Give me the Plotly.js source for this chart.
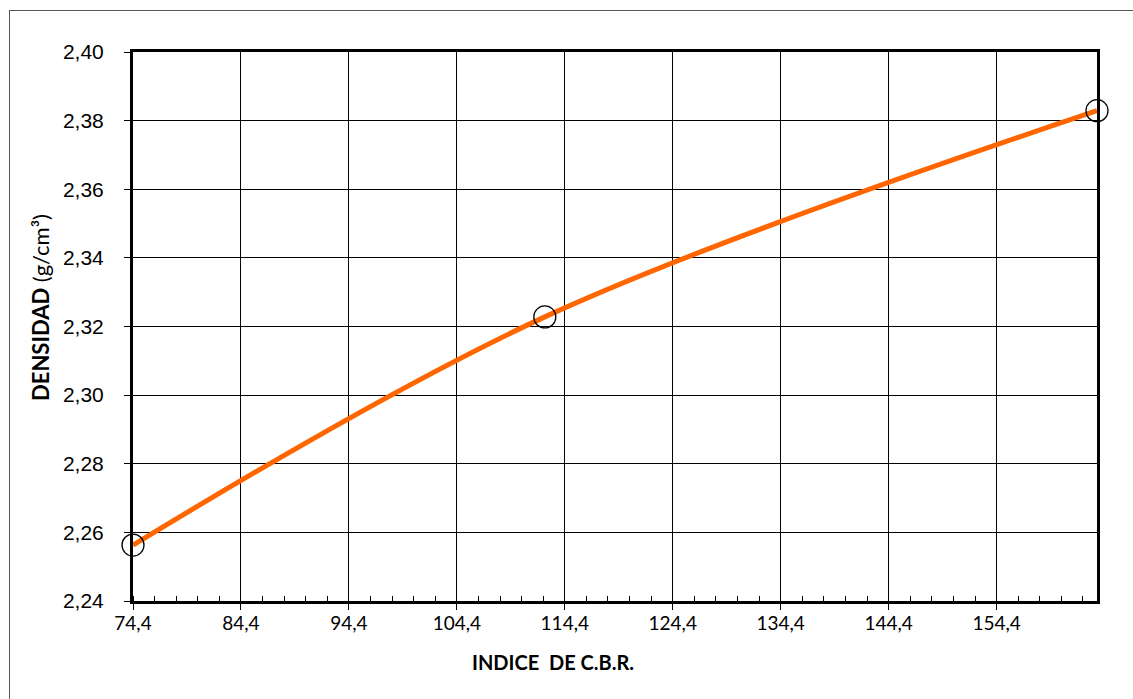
<!DOCTYPE html>
<html>
<head>
<meta charset="utf-8">
<script src="https://cdn.plot.ly/plotly-3.0.1.min.js"></script>
<style>
  html, body { margin: 0; padding: 0; background: #fff; }
  #frame { position: absolute; left: 9px; top: 10px; width: 1200px; height: 800px; border: 1px solid #555; box-sizing: border-box; }
  #chart { position: absolute; left: 0; top: 0; width: 1133px; height: 699px; }
</style>
</head>
<body>
<div id="frame"></div>
<div id="chart"></div>
<script>
const cbr = [74.4, 112.55, 163.7];
const densidad = [2.2563, 2.3228, 2.3829];
const xTitle = '<b>INDICE  DE C.B.R.</b>';
const yTitle = '<b>DENSIDAD</b> (g/cm³)';

const gothic = 'Lato, "Noto Sans", "DejaVu Sans", sans-serif';

const trace = {
  x: cbr,
  y: densidad,
  type: 'scatter',
  mode: 'lines+markers',
  line: { color: '#FF6600', width: 5, shape: 'spline', smoothing: 1 },
  marker: { symbol: 'circle-open', size: 22, color: '#000', line: { color: '#000', width: 1.3 } },
  cliponaxis: false,
  hoverinfo: 'none'
};

const layout = {
  width: 1133,
  height: 699,
  margin: { l: 133, r: 36, t: 52, b: 98 },
  paper_bgcolor: 'rgba(0,0,0,0)',
  plot_bgcolor: '#fff',
  separators: ',.',
  showlegend: false,
  xaxis: {
    range: [74.4, 163.7],
    tick0: 74.4,
    dtick: 10,
    tickmode: 'linear',
    tickformat: '.1f',
    ticks: 'outside',
    ticklen: 6,
    tickwidth: 1,
    tickcolor: '#000',
    ticklabelstandoff: -3,
    showgrid: true,
    gridcolor: '#000',
    gridwidth: 1,
    showline: true,
    linecolor: '#000',
    linewidth: 3,
    mirror: true,
    zeroline: false,
    tickfont: { family: gothic, size: 19, color: '#000' },
    minor: { dtick: 2, tick0: 74.4, ticks: 'inside', ticklen: 5, tickcolor: '#000', tickwidth: 1, showgrid: false }
  },
  yaxis: {
    range: [2.24, 2.40],
    tick0: 2.24,
    dtick: 0.02,
    tickmode: 'linear',
    tickformat: '.2f',
    ticks: 'outside',
    ticklen: 6,
    tickwidth: 1,
    tickcolor: '#000',
    ticklabelstandoff: 16,
    showgrid: true,
    gridcolor: '#000',
    gridwidth: 1,
    showline: true,
    linecolor: '#000',
    linewidth: 3,
    mirror: true,
    zeroline: false,
    tickfont: { family: '"Liberation Sans", Arial, sans-serif', size: 21, color: '#000' }
  },
  annotations: [
    {
      text: xTitle, xref: 'paper', yref: 'paper',
      x: (553 - 133) / 964, y: (601 - 662) / 549,
      xanchor: 'center', yanchor: 'middle', showarrow: false,
      font: { family: gothic, size: 20, color: '#000' }
    },
    {
      text: yTitle, xref: 'paper', yref: 'paper', textangle: -90,
      x: (40 - 133) / 964, y: (601 - 308) / 549,
      xanchor: 'center', yanchor: 'middle', showarrow: false,
      font: { family: gothic, size: 22, color: '#000' }
    }
  ]
};

Plotly.newPlot('chart', [trace], layout, { displayModeBar: false, staticPlot: true });
</script>
</body>
</html>
